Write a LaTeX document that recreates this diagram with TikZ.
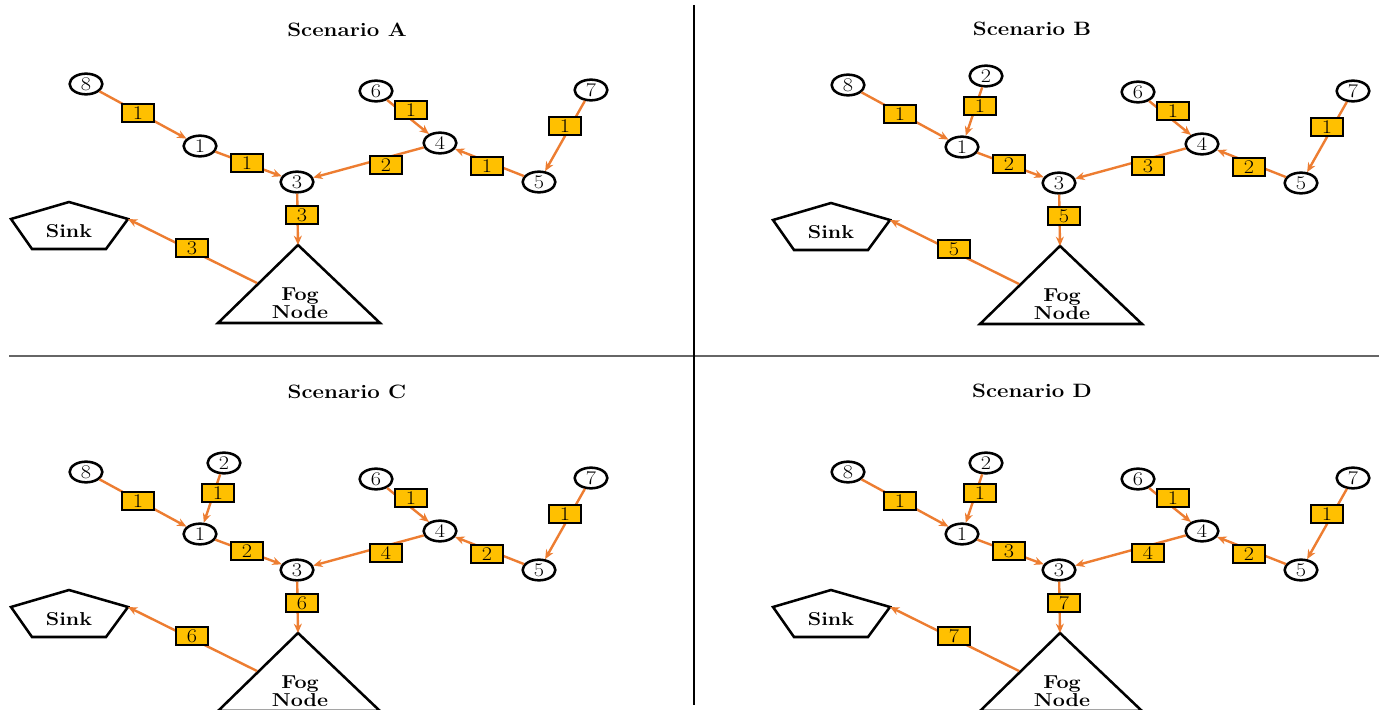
\documentclass[tikz,border=0pt]{standalone}
\usepackage{fontspec}
\setmainfont{Latin Modern Roman}[FakeStretch=1.15]
\usetikzlibrary{arrows.meta,shapes.geometric}
\definecolor{edgeor}{HTML}{ED7D31}
\definecolor{lblfill}{HTML}{FFC000}
\tikzset{
  nd/.style={ellipse,draw=black,line width=1.9pt,fill=white,inner sep=0pt,
     minimum width=24.5pt,minimum height=15.5pt,font=\fontsize{14.5}{15}\selectfont},
  lbl/.style={rectangle,draw=black,line width=1.7pt,fill=lblfill,inner sep=0pt,
     minimum width=24pt,minimum height=13pt,font=\fontsize{14.5}{15}\selectfont},
  edge/.style={draw=edgeor,line width=1.8pt,-{Stealth[length=7pt,width=6pt]}},
  ttl/.style={font=\fontsize{14.5}{16}\selectfont\bfseries},
  bigtxt/.style={font=\fontsize{14}{11.5}\selectfont\bfseries,align=center},
  shapeline/.style={draw=black,line width=1.9pt,line join=miter},
}
\newcommand{\scen}[8]{%
\begin{scope}[shift={(#2,#3)}]
  % fog node
  \coordinate (#1fa) at (298,245);
  \coordinate (#1fl) at (218,323);
  \coordinate (#1fr) at (380,323);
  \draw[shapeline] (#1fa) -- (#1fl) -- (#1fr) -- cycle;
  \node[bigtxt] (#1fog) at (300,303) {Fog\\Node};
  \coordinate (#1fs) at (257,283);
  % sink
  \coordinate (#1s1) at (69,202);
  \coordinate (#1s2) at (128,219);
  \coordinate (#1s3) at (106,249);
  \coordinate (#1s4) at (32,249);
  \coordinate (#1s5) at (11,219);
  \draw[shapeline] (#1s1) -- (#1s2) -- (#1s3) -- (#1s4) -- (#1s5) -- cycle;
  \node[bigtxt] (#1sink) at (69,231) {Sink};
  % nodes
  \node[nd] (#1n8) at (86,84) {8};
  \node[nd] (#1n1) at (200,146) {1};
  \node[nd] (#1n3) at (297,182) {3};
  \node[nd] (#1n6) at (376,91) {6};
  \node[nd] (#1n4) at (440,143) {4};
  \node[nd] (#1n5) at (539,182) {5};
  \node[nd] (#1n7) at (591,90) {7};
  \ifnum#4=1 \node[nd] (#1n2) at (224,75) {2};\fi
  % edges
  \draw[edge] (#1n8) -- (#1n1);
  \draw[edge] (#1n1) -- (#1n3);
  \draw[edge] (#1n6) -- (#1n4);
  \draw[edge] (#1n4) -- (#1n3);
  \draw[edge] (#1n5) -- (#1n4);
  \draw[edge] (#1n7) -- (#1n5);
  \draw[edge] (#1n3) -- (#1fa);
  \draw[edge] (#1fs) -- (#1s2);
  \ifnum#4=1 \draw[edge] (#1n2) -- (#1n1);\fi
  % labels
  \node[lbl] (#1l81) at (138,113) {1};
  \node[lbl] (#1l13) at (247,163) {#5};
  \node[lbl] (#1l64) at (411,110) {1};
  \node[lbl] (#1l43) at (386,165) {#6};
  \node[lbl] (#1l54) at (487,166) {#7};
  \node[lbl] (#1l75) at (565,126) {1};
  \node[lbl] (#1l3f) at (302,215) {#8};
  \node[lbl] (#1lfs) at (192,248) {#8};
  \ifnum#4=1 \node[lbl] (#1l21) at (218,105) {1};\fi
\end{scope}}
\begin{document}
\begin{tikzpicture}[x=0.75pt,y=-0.75pt]
  \useasboundingbox (0,0) rectangle (1379,710);
  \clip (0,0) rectangle (1379,710);
  \fill[white] (0,0) rectangle (1379,710);
  \scen{A}{0}{0}{0}{1}{2}{1}{3}
  \scen{B}{762}{1}{1}{2}{3}{2}{5}
  \scen{C}{0}{388}{1}{2}{4}{2}{6}
  \scen{D}{762}{388}{1}{3}{4}{2}{7}
  \node[ttl] (tA) at (347,30) {Scenario A};
  \node[ttl] (tB) at (1032,29) {Scenario B};
  \node[ttl] (tC) at (347,392) {Scenario C};
  \node[ttl] (tD) at (1032,391) {Scenario D};
  \coordinate (vt) at (694,5);
  \coordinate (vb) at (694,705);
  \coordinate (hl) at (9,356);
  \coordinate (hr) at (1379,356);
  \draw[black!60,line width=1.2pt] (hl) -- (hr);
  \draw[black,line width=1pt] (vt) -- (vb);
\end{tikzpicture}
\end{document}
